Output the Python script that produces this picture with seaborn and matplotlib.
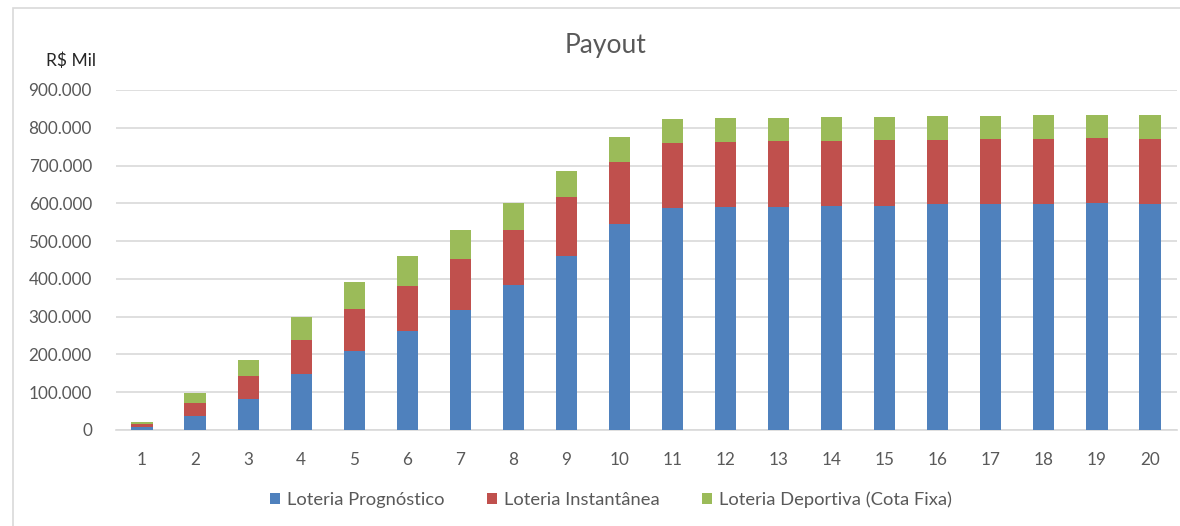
import numpy as np
import pandas as pd
import matplotlib
matplotlib.use("Agg")
import matplotlib.pyplot as plt
import seaborn as sns
from matplotlib.patches import Patch, Rectangle
from matplotlib.ticker import FuncFormatter

# Data (R$ mil)
anos = [str(i) for i in range(1, 21)]
prognostico = [7, 38, 82, 147, 208, 261, 317, 384, 460, 544,
               588, 591, 591, 594, 594, 597, 597, 597, 600, 597]
instantanea = [9, 33, 62, 92, 112, 121, 135, 145, 156, 165,
               171, 171, 174, 171, 173, 170, 173, 173, 173, 173]
deportiva = [5, 26, 42, 59, 72, 78, 77, 73, 70, 66,
             64, 63, 60, 63, 61, 65, 62, 64, 61, 64]
series = ["Loteria Prognóstico", "Loteria Instantânea", "Loteria Deportiva (Cota Fixa)"]
cores = ["#4F81BD", "#C0504D", "#9BBB59"]

sns.set_theme(style="white")
plt.rcParams['font.family'] = ['Lato', 'DejaVu Sans']

df = pd.DataFrame({
    'ano': anos,
    'prog': np.array(prognostico) * 1000,
    'inst': np.array(instantanea) * 1000,
    'dep': np.array(deportiva) * 1000,
})
df['top_inst'] = df['prog'] + df['inst']
df['top_dep'] = df['top_inst'] + df['dep']

fig = plt.figure(figsize=(11.8, 5.26), dpi=100)
ax = fig.add_axes([115.5 / 1180, 96 / 526, 1061 / 1180, 340 / 526])

# stacked bars: draw cumulative totals back to front
for col, cor in zip(['top_dep', 'top_inst', 'prog'], cores[::-1]):
    sns.barplot(data=df, x='ano', y=col, color=cor, width=0.4,
                saturation=1, edgecolor='none', ax=ax, zorder=3)

ax.set_xlim(-0.5, 19.5)
ax.set_ylim(0, 900000)
ax.set_yticks(np.arange(0, 900001, 100000))
ax.yaxis.set_major_formatter(FuncFormatter(lambda v, p: f"{int(v):,}".replace(",", ".")))
ax.grid(axis='y', color='#d9d9d9', linewidth=1.2, zorder=0)
ax.set_axisbelow(True)
for s in ['top', 'right', 'left']:
    ax.spines[s].set_visible(False)
ax.spines['bottom'].set_color('#d9d9d9')
ax.spines['bottom'].set_linewidth(1.2)
ax.tick_params(axis='both', length=0, labelsize=12.3, colors='#595959')
ax.tick_params(axis='x', pad=16)
ax.tick_params(axis='y', pad=17)
ax.set_xlabel('')
ax.set_ylabel('')

fig.text(606 / 1180, 1 - 46 / 526, 'Payout', ha='center', va='center',
         fontsize=19, color='#595959')
fig.text(71 / 1180, 1 - 61 / 526, 'R$ Mil', ha='center', va='center',
         fontsize=12.5, color='#262626')

handles = [Patch(facecolor=c, edgecolor='none', label=l) for c, l in zip(cores, series)]
fig.legend(handles=handles, loc='center', bbox_to_anchor=(611 / 1180, 1 - 500 / 526),
           ncol=3, frameon=False, fontsize=13.2, labelcolor='#595959',
           handlelength=0.55, handleheight=0.55, handletextpad=0.4, columnspacing=2.3)

# chart border
fig.patches.append(Rectangle((13 / 1180, -0.05), 1.2, 1 - 8 / 526 + 0.05,
                             transform=fig.transFigure, fill=False,
                             edgecolor='#d9d9d9', linewidth=1.2))

fig.savefig('out.png', dpi=100, facecolor='white')
